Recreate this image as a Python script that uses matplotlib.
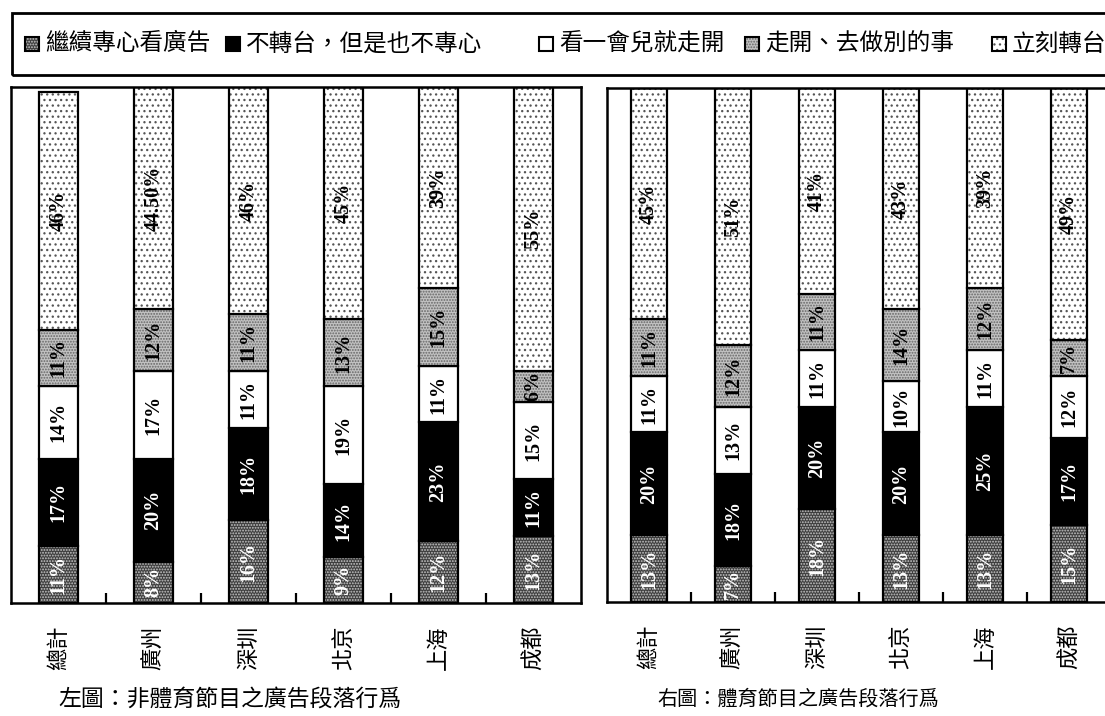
import numpy as np
import matplotlib
matplotlib.use("Agg")
import matplotlib.pyplot as plt
from matplotlib.patches import Rectangle

plt.rcParams['font.family'] = ['Noto Sans CJK TC', 'DejaVu Sans']
plt.rcParams['hatch.linewidth'] = 0.9

# Data (percent), stacked bottom -> top
cities = ["總計", "廣州", "深圳", "北京", "上海", "成都"]
series_names = ["繼續專心看廣告", "不轉台，但是也不專心", "看一會兒就走開",
                "走開、去做別的事", "立刻轉台"]

# left: non-sports programs
left_keep = [11, 8, 16, 9, 12, 13]
left_stay = [17, 20, 18, 14, 23, 11]
left_watch = [14, 17, 11, 19, 11, 15]
left_away = [11, 12, 11, 13, 15, 6]
left_switch = [46, 44.5, 46, 45, 39, 55]

# right: sports programs
right_keep = [13, 7, 18, 13, 13, 15]
right_stay = [20, 18, 20, 20, 25, 17]
right_watch = [11, 13, 11, 10, 11, 12]
right_away = [11, 12, 11, 14, 12, 7]
right_switch = [45, 51, 41, 43, 39, 49]

captions = ["左圖：非體育節目之廣告段落行爲", "右圖：體育節目之廣告段落行爲"]

# fill, hatch, hatch colour, label colour for each series
styles = [
    dict(fc="#3e3e3e", hatch="......", hc="#c8c8c8", tc="white"),
    dict(fc="black", hatch=None, hc="none", tc="white"),
    dict(fc="white", hatch=None, hc="none", tc="black"),
    dict(fc="#c2c2c2", hatch="......", hc="#666666", tc="black"),
    dict(fc="white", hatch="...", hc="#555555", tc="black"),
]

W, H = 1105, 716
fig = plt.figure(figsize=(W / 100, H / 100), dpi=100)


def fmt(v):
    return f"{v:.0f}%" if float(v).is_integer() else f"{v:.2f}%"


def draw_panel(ax, data):
    x = np.arange(len(cities))
    bottom = np.zeros(len(cities))
    for vals, st in zip(data, styles):
        vals = np.array(vals, float)
        ax.bar(x, vals, 0.42, bottom=bottom, color=st["fc"], edgecolor=st["hc"],
               hatch=st["hatch"], linewidth=0)
        ax.bar(x, vals, 0.42, bottom=bottom, fill=False, edgecolor="black", linewidth=1.6)
        for xi, b, v in zip(x, bottom, vals):
            top = min(b + v, 100)
            ax.text(xi, (b + top) / 2, fmt(v), rotation=90, ha="center", va="center",
                    color=st["tc"], fontsize=14.5, fontweight="bold",
                    family="Liberation Serif")
        bottom += vals
    ax.set_xlim(-0.5, len(cities) - 0.5)
    ax.set_ylim(0, 100)
    ax.set_yticks([])
    ax.set_xticks(x)
    ax.set_xticklabels(cities, rotation=90, fontsize=16, fontweight="light")
    ax.tick_params(axis="x", which="major", length=0, pad=16)
    ax.set_xticks(x[:-1] + 0.5, minor=True)
    ax.tick_params(axis="x", which="minor", direction="in", length=7, width=1.6)
    for s in ax.spines.values():
        s.set_linewidth(1.8)


axL = fig.add_axes([11 / W, 1 - 603 / H, 570 / W, 516 / H])
axR = fig.add_axes([607 / W, 1 - 602 / H, 504 / W, 514 / H])
draw_panel(axL, [left_keep, left_stay, left_watch, left_away, left_switch])
draw_panel(axR, [right_keep, right_stay, right_watch, right_away, right_switch])

# legend box across the top
fig.add_artist(Rectangle((12 / W, 1 - 75 / H), 1100 / W, 62 / H, fill=False,
                         edgecolor="black", linewidth=2, transform=fig.transFigure))
marker_x = [25, 226, 539, 745, 992]
for mx, name, st in zip(marker_x, series_names, styles):
    fig.add_artist(Rectangle((mx / W, 1 - 51 / H), 14 / W, 14 / H, facecolor=st["fc"],
                             edgecolor=st["hc"], hatch=st["hatch"], linewidth=0,
                             transform=fig.transFigure))
    fig.add_artist(Rectangle((mx / W, 1 - 51 / H), 14 / W, 14 / H, fill=False,
                             edgecolor="black", linewidth=1.5, transform=fig.transFigure))
    fig.text((mx + 20) / W, 1 - 44 / H, name, ha="left", va="center", fontsize=17,
             fontweight="light")

# captions
fig.text(58 / W, 1 - 699 / H, captions[0], ha="left", va="center", fontsize=16.5,
         fontweight="light", style="italic")
fig.text(657 / W, 1 - 699 / H, captions[1], ha="left", va="center", fontsize=14.5,
         fontweight="light", style="italic")

fig.savefig("out.png", dpi=100)
